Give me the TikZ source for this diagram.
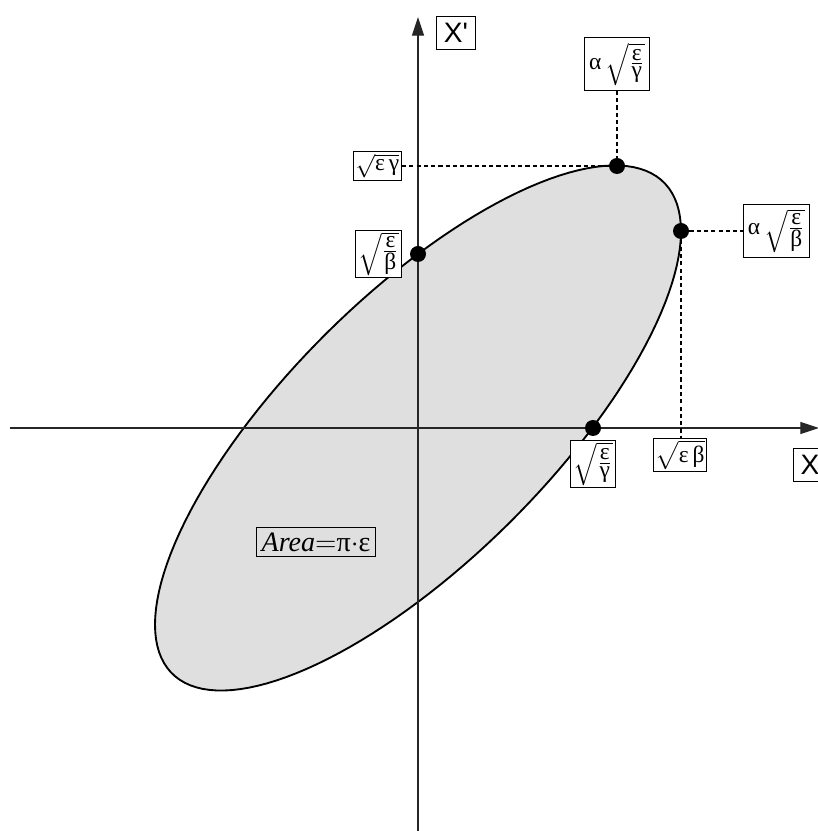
\documentclass[tikz,border=0pt]{standalone}
\usepackage{amsmath}
\usepackage{fontspec}
\setmainfont{Liberation Serif}
\newfontfamily\eixofonte{Liberation Sans}[Ligatures=TeXOff]
\usetikzlibrary{arrows.meta,positioning}
\newcommand{\geps}{\mbox{ε}}
\newcommand{\gbet}{\mbox{β}}
\newcommand{\ggam}{\mbox{γ}}
\newcommand{\galf}{\mbox{α}}
\tikzset{
    rotulo/.style={
        rectangle,
        draw,
        fill=white,
        line width=0.4pt,
        inner sep=2pt
    },
    eixoRotulo/.style={rotulo, font=\eixofonte\large, inner sep=3pt},
    ponto/.style={circle, fill=black, inner sep=0pt, minimum size=0.24cm},
    eixo/.style={draw=black!85, line width=0.5pt, -{Triangle[length=0.28cm, width=0.18cm]}},
    guia/.style={dash pattern=on 1.8pt off 1.3pt, line width=0.7pt},
    elipse/.style={draw=black, line width=0.8pt, fill=gray!25}
}

\begin{document}
\begin{tikzpicture}[x=0.015cm, y=0.015cm, font=\normalsize]
    \useasboundingbox (-418,-403) rectangle (399,428);

    \draw[elipse] plot[domain=0:360, samples=145]
        ({263*cos(\x)}, {174*(1.13*cos(\x) - sin(\x))}) -- cycle;

    \coordinate (xini) at (-408,0);
    \coordinate (xfim) at (401,0);
    \coordinate (yini) at (0,-403);
    \coordinate (yfim) at (0,411);
    \draw[eixo] (xini) -- (xfim);
    \draw[eixo] (yini) -- (yfim);

    \node[ponto] (pdir) at (263,197) {};
    \node[ponto] (ptopo) at (199,262) {};
    \node[ponto] (peixoy) at (0,174) {};
    \node[ponto] (peixox) at (175,0) {};

    \node[eixoRotulo] (rotXl) at (38,395) {X'};
    \node[eixoRotulo, anchor=west] (rotX) at (375,-37) {X};

    \node[rotulo, above=1.0cm of ptopo] (rotAG)
        {$\galf\,\sqrt{\frac{\geps}{\ggam}}$};
    \node[rotulo, anchor=east, inner sep=1pt] (rotEG) at (-16,262)
        {$\sqrt{\geps\,\ggam}$};
    \node[rotulo, anchor=east, inner sep=1pt] (rotEB) at (-16,174)
        {$\sqrt{\frac{\geps}{\gbet}}$};
    \node[rotulo, right=0.8cm of pdir] (rotAB)
        {$\galf\,\sqrt{\frac{\geps}{\gbet}}$};
    \node[rotulo, inner sep=1pt] (rotREB) at (262,-27)
        {$\sqrt{\geps\,\gbet}$};
    \node[rotulo, inner sep=1pt] (rotREG) at (175,-36)
        {$\sqrt{\frac{\geps}{\ggam}}$};
    \node[draw, inner sep=2pt] (area) at (-102,-114)
        {\large$\textit{Area}{=}\mbox{π}{\cdot}\geps$};

    \draw[guia] (rotAG) -- (ptopo);
    \draw[guia] (rotEG) -- (ptopo);
    \draw[guia] (pdir) -- (rotAB);
    \draw[guia] (pdir) -- (pdir |- rotREB.north);
\end{tikzpicture}
\end{document}
